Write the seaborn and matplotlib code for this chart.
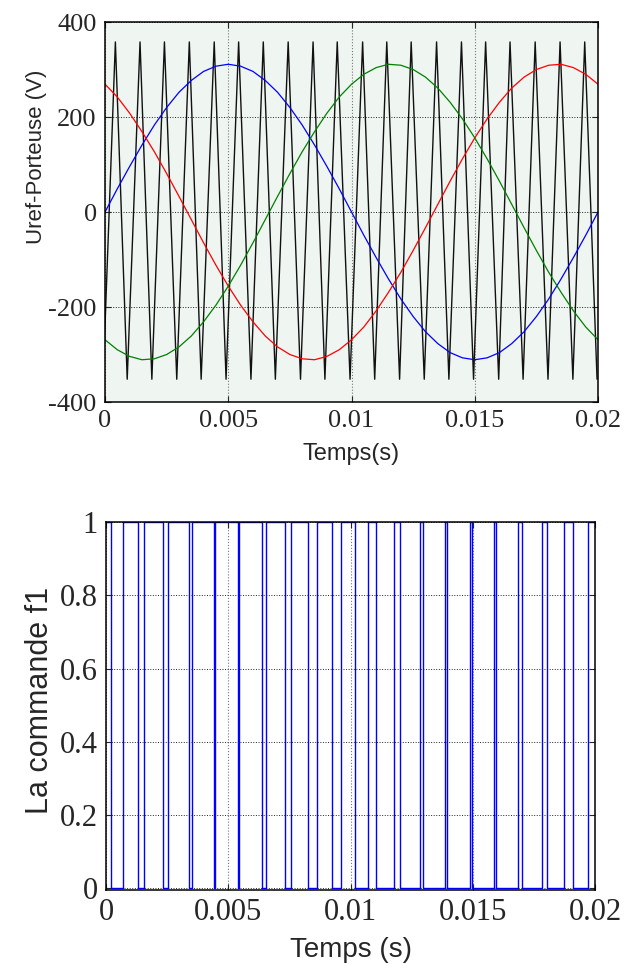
import numpy as np
import pandas as pd
import seaborn as sns
import matplotlib.pyplot as plt

sns.set_theme(style="ticks")
plt.rcParams['axes.unicode_minus'] = False
plt.rcParams['font.family'] = ['Liberation Serif', 'DejaVu Serif']

# ---- data ----
# sample instants of the three references (ms)
t_ref_ms = np.linspace(0, 20, 41)
v_a = [0, 49, 96, 141, 183, 220, 252, 277, 296, 307, 311, 307, 296, 277, 252, 220, 183, 141, 96, 49,
       0, -49, -96, -141, -183, -220, -252, -277, -296, -307, -311, -307, -296, -277, -252, -220, -183, -141, -96, -49, 0]
v_b = [269, 242, 208, 169, 127, 81, 33, -16, -65, -112, -156, -196, -231, -261, -284, -300, -309, -311, -304, -290,
       -269, -242, -208, -169, -127, -81, -33, 16, 65, 112, 156, 196, 231, 261, 284, 300, 309, 311, 304, 290, 269]
v_c = [-269, -290, -304, -311, -309, -300, -284, -261, -231, -196, -156, -112, -65, -16, 33, 81, 127, 169, 208, 242,
       269, 290, 304, 311, 309, 300, 284, 261, 231, 196, 156, 112, 65, 16, -33, -81, -127, -169, -208, -242, -269]

# carrier (porteuse) peaks, ms
top_peaks_ms = [0.42, 1.42, 2.41, 3.42, 4.43, 5.42, 6.42, 7.43, 8.44, 9.42,
                10.45, 11.43, 12.42, 13.45, 14.46, 15.44, 16.43, 17.45, 18.46, 19.46]
bottom_peaks_ms = [-0.08, 0.90, 1.90, 2.91, 3.90, 4.91, 5.92, 6.91, 7.93, 8.92, 9.94,
                   10.94, 11.95, 12.95, 13.95, 14.95, 15.97, 16.96, 17.97, 18.98, 19.96]
top_level = 358
bottom_level = -352

# switching instants of f1 (ms), f1 = 1 at t = 0
f1_edges_ms = [0.20, 0.68, 1.32, 1.57, 2.34, 2.52, 3.39, 3.50, 4.40, 4.46,
               5.39, 5.44, 6.39, 6.54, 7.32, 7.55, 8.27, 8.62, 9.26, 9.60,
               10.18, 10.72, 11.04, 11.78, 12.02, 12.84, 12.98, 13.87, 13.96, 14.90,
               14.96, 15.88, 15.95, 16.84, 17.00, 17.82, 18.05, 18.74, 19.09, 19.73]
f1_start = 1

xticks = [0, 0.005, 0.01, 0.015, 0.02]
xtick_labels = ['0', '0.005', '0.01', '0.015', '0.02']

# ---- build tables ----
refs = pd.DataFrame({'t': np.tile(t_ref_ms / 1000, 3),
                     'v': v_a + v_b + v_c,
                     'phase': ['a'] * 41 + ['b'] * 41 + ['c'] * 41})

extrema = sorted([(t, top_level) for t in top_peaks_ms] + [(t, bottom_level) for t in bottom_peaks_ms])
carrier = pd.DataFrame({'t': [e[0] / 1000 for e in extrema], 'v': [e[1] for e in extrema]})

st_t, st_v = [0.0], [f1_start]
state = f1_start
for e in f1_edges_ms:
    st_t += [e / 1000, e / 1000]
    st_v += [state, 1 - state]
    state = 1 - state
st_t.append(0.02)
st_v.append(state)
f1 = pd.DataFrame({'t': st_t, 'v': st_v})

# ---- figure ----
fig = plt.figure(figsize=(6.27, 9.65), dpi=100)
ax1 = fig.add_axes([0.1675, 0.5834, 0.7863, 0.3938])
ax2 = fig.add_axes([0.1691, 0.0777, 0.780, 0.3813])

ax1.set_facecolor('#EFF5F1')
sns.lineplot(data=carrier, x='t', y='v', ax=ax1, color='#111111', lw=1.0, sort=False, estimator=None)
sns.lineplot(data=refs, x='t', y='v', hue='phase', ax=ax1, lw=0.9, sort=False, estimator=None,
             palette={'a': '#0000FF', 'b': '#FF0000', 'c': '#008000'}, legend=False)
ax1.set_xlim(0, 0.02)
ax1.set_ylim(-400, 400)
ax1.set_yticks([-400, -200, 0, 200, 400])
ax1.set_yticklabels(['-400', '-200', '0', '200', '400'])
ax1.set_xlabel('Temps(s)', family='Liberation Sans', fontsize=17)
ax1.set_ylabel('Uref-Porteuse (V)', family='Liberation Sans', fontsize=16)
ax1.xaxis.set_label_coords(0.5, -0.108)
ax1.yaxis.set_label_coords(-0.118, 0.645)

sns.lineplot(data=f1, x='t', y='v', ax=ax2, color='#0000FF', lw=1.0, sort=False, estimator=None)
ax2.set_xlim(0, 0.02)
ax2.set_ylim(-0.005, 1.0)
ax2.set_yticks([0, 0.2, 0.4, 0.6, 0.8, 1])
ax2.set_yticklabels(['0', '0.2', '0.4', '0.6', '0.8', '1'])
ax2.set_xlabel('Temps (s)', family='Liberation Sans', fontsize=20)
ax2.set_ylabel('La commande f1', family='Liberation Sans', fontsize=22)
ax2.xaxis.set_label_coords(0.5, -0.127)
ax2.yaxis.set_label_coords(-0.104, 0.516)

for ax, fs in ((ax1, 19), (ax2, 22)):
    ax.set_xticks(xticks)
    ax.set_xticklabels(xtick_labels)
    ax.tick_params(direction='in', top=True, right=True, length=4, width=0.8,
                   labelsize=fs, pad=6)
    ax.xaxis.grid(True, linestyle=':', color='#777777', linewidth=0.8)
    ax.yaxis.grid(True, linestyle=':', color='#222222', linewidth=0.7)
    ax.set_axisbelow(True)
    for s in ax.spines.values():
        s.set_visible(True)
        s.set_color('black')
        s.set_linewidth(1.1)

fig.savefig('out.png', dpi=100)
